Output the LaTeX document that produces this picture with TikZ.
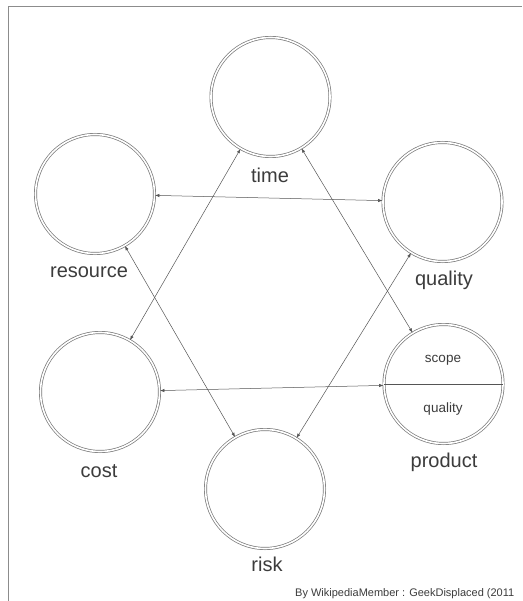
\documentclass[tikz,border=0pt]{standalone}
\usepackage{fontspec}
\setmainfont{Liberation Sans}
\usetikzlibrary{arrows.meta}
\tikzset{>={Latex[length=4.5pt,width=3.2pt]}}
\definecolor{ringgray}{RGB}{120,120,120}
\definecolor{linegray}{RGB}{85,85,85}
\definecolor{textgray}{RGB}{60,60,60}
\definecolor{framegray}{RGB}{140,140,140}
\tikzstyle{ring}=[circle,draw=ringgray,double=white,double distance=1.6pt,line width=0.7pt,minimum size=119pt,inner sep=0pt]
\tikzstyle{link}=[<->,draw=linegray,line width=0.5pt]
\tikzstyle{biglabel}=[anchor=base,text=textgray,inner sep=0pt,font=\fontsize{20}{24}\selectfont]
\tikzstyle{smalllabel}=[anchor=base,text=textgray,inner sep=0pt,font=\fontsize{13.5}{16}\selectfont]

\begin{document}
\begin{tikzpicture}[x=1pt,y=-1pt]
  \useasboundingbox (0,0) rectangle (522,601);
  \fill[white] (0,0) rectangle (522,601);
  \draw[framegray,line width=0.8pt] (8,601) -- (8,6) -- (522,6);

  % the six circles
  \node[ring] (time)     at (270.5, 97) {};
  \node[ring] (resource) at (95, 194) {};
  \node[ring] (quality)  at (442.5,202) {};
  \node[ring] (cost)     at (100, 392) {};
  \node[ring] (product)  at (443.5,384) {};
  \node[ring] (risk)     at (265, 489) {};

  % product is split in two
  \draw[linegray,line width=0.8pt] (product.west) -- (product.east);
  \node[smalllabel] (scope)   at (443,362) {scope};
  \node[smalllabel] (pquality) at (443,412.5) {quality};

  % names under the circles
  \node[biglabel] (timetext)     at (270,183) {time};
  \node[biglabel] (resourcetext) at (89,277)  {resource};
  \node[biglabel] (qualitytext)  at (444,285) {quality};
  \node[biglabel] (costtext)     at (99,477)  {cost};
  \node[biglabel] (producttext)  at (444,467) {product};
  \node[biglabel] (risktext)     at (267,571) {risk};

  % links
  \draw[link] (resource) -- (quality);
  \draw[link] (cost) -- (product);
  \draw[link] (time) -- (cost);
  \draw[link] (time) -- (product);
  \draw[link] (resource) -- (risk);
  \draw[link] (quality) -- (risk);

  \node[anchor=base west,inner sep=0pt,text=textgray,font=\fontsize{11}{13}\selectfont] (credit) at (295,596) {By WikipediaMember : GeekDisplaced (2011};
\end{tikzpicture}
\end{document}
